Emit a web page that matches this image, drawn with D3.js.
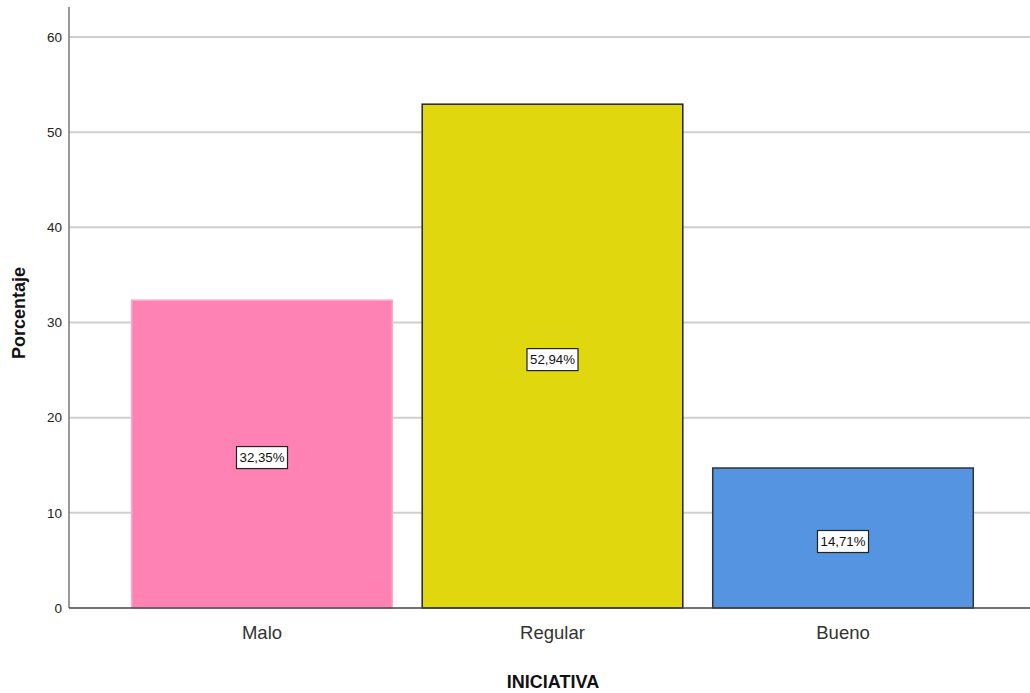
<!DOCTYPE html>
<html>
<head>
<meta charset="utf-8">
<script src="https://cdn.jsdelivr.net/npm/d3@7"></script>
<style>
  html, body { margin: 0; padding: 0; background: #fff; }
  svg { display: block; font-family: "Liberation Sans", Arial, sans-serif; }
</style>
</head>
<body>
<svg id="chart" width="1030" height="693"></svg>
<script>
// Distribution of INICIATIVA levels (percent)
const categories = ["Malo", "Regular", "Bueno"];
const percentages = [32.35, 52.94, 14.71];
const valueLabels = ["32,35%", "52,94%", "14,71%"];
const yTicks = [0, 10, 20, 30, 40, 50, 60];
const barFills = ["#FF82B4", "#E1D70E", "#5594E0"];
const barStrokes = ["#FFA6CB", "#222222", "#333333"];

const svg = d3.select("#chart");
const plotLeft = 69, plotRight = 1030, plotBottom = 608, plotTop = 7;

const y = d3.scaleLinear().domain([0, 60]).range([plotBottom, 37]);
const x = d3.scaleBand().domain(categories)
  .range([116.75, 988.25]).paddingInner(0.103).paddingOuter(0.0515);

// horizontal gridlines
svg.append("g").selectAll("line")
  .data(yTicks.filter(d => d > 0))
  .join("line")
  .attr("x1", plotLeft).attr("x2", plotRight)
  .attr("y1", d => y(d)).attr("y2", d => y(d))
  .attr("stroke", "#cfcfcf").attr("stroke-width", 2);

// bars
svg.append("g").selectAll("rect")
  .data(categories)
  .join("rect")
  .attr("x", d => x(d))
  .attr("width", x.bandwidth())
  .attr("y", (d, i) => y(percentages[i]))
  .attr("height", (d, i) => y(0) - y(percentages[i]))
  .attr("fill", (d, i) => barFills[i])
  .attr("stroke", (d, i) => barStrokes[i])
  .attr("stroke-width", 1.5);

// y axis
const yAxis = d3.axisLeft(y).tickValues(yTicks).tickSize(0).tickPadding(7);
const yg = svg.append("g").attr("transform", `translate(${plotLeft},0)`).call(yAxis);
yg.select(".domain").remove();
yg.selectAll("text").attr("font-size", 13.5).attr("fill", "#222")
  .attr("font-family", "Liberation Sans, Arial, sans-serif");
svg.append("line")
  .attr("x1", plotLeft).attr("x2", plotLeft)
  .attr("y1", plotTop).attr("y2", plotBottom)
  .attr("stroke", "#777").attr("stroke-width", 1.5);

// baseline
svg.append("line")
  .attr("x1", plotLeft).attr("x2", plotRight)
  .attr("y1", plotBottom).attr("y2", plotBottom)
  .attr("stroke", "#444").attr("stroke-width", 1.5);

// x axis category labels
const xAxis = d3.axisBottom(x).tickSize(0).tickPadding(18);
const xg = svg.append("g").attr("transform", `translate(0,${plotBottom})`).call(xAxis);
xg.select(".domain").remove();
xg.selectAll("text").attr("font-size", 18.5).attr("fill", "#333")
  .attr("font-family", "Liberation Sans, Arial, sans-serif");

// value labels in boxes at mid-height of each bar
const lbl = svg.append("g").selectAll("g")
  .data(categories)
  .join("g")
  .attr("transform", (d, i) => `translate(${x(d) + x.bandwidth() / 2},${y(percentages[i] / 2) + 3})`);
lbl.append("rect")
  .attr("x", -25.5).attr("y", -10.5).attr("width", 51).attr("height", 22)
  .attr("fill", "#fff").attr("stroke", "#222").attr("stroke-width", 1.2);
lbl.append("text")
  .attr("text-anchor", "middle").attr("dy", "0.35em").attr("y", 0.5)
  .attr("font-size", 13.5).attr("fill", "#111")
  .attr("textLength", 45).attr("lengthAdjust", "spacingAndGlyphs")
  .text((d, i) => valueLabels[i]);

// axis titles
svg.append("text")
  .attr("x", 553).attr("y", 688)
  .attr("text-anchor", "middle")
  .attr("font-size", 18).attr("font-weight", "bold").attr("fill", "#111")
  .text("INICIATIVA");
svg.append("text")
  .attr("transform", "translate(25,313) rotate(-90)")
  .attr("text-anchor", "middle")
  .attr("font-size", 18).attr("font-weight", "bold").attr("fill", "#111")
  .text("Porcentaje");
</script>
</body>
</html>
